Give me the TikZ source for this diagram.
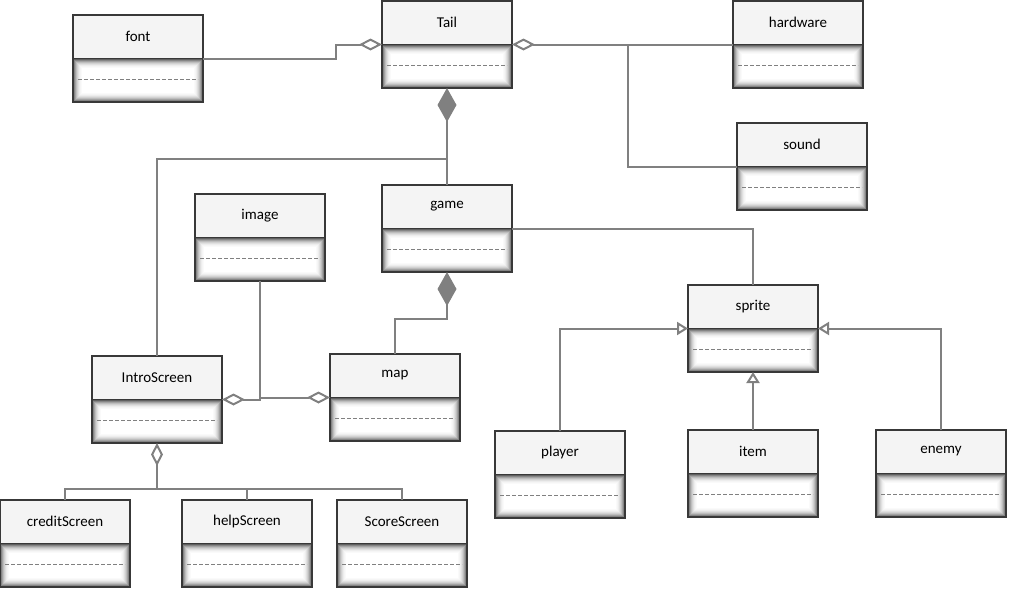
\documentclass[tikz,border=0pt]{standalone}
\usepackage{fontspec}
\setmainfont{Carlito}
\usetikzlibrary{arrows.meta,calc}
\definecolor{linkgray}{HTML}{808080}
\definecolor{boxedge}{HTML}{383838}
\definecolor{titlebg}{HTML}{F4F4F4}
\tikzset{
  classbox/.style={minimum width=130pt, minimum height=87pt, inner sep=0pt, outer sep=0pt},
  link/.style={draw=linkgray, line width=2pt},
  agg/.style={link, -{Diamond[open, length=23pt, width=12pt, fill=white]}},
  comp/.style={link, -{Diamond[length=34pt, width=19pt, fill=linkgray]}},
  inh/.style={link, -{Triangle[open, length=11pt, width=13pt, fill=white]}},
  classname/.style={font=\fontsize{15}{18}\selectfont, text=black},
}
% #1 node name, #2 left x, #3 top y, #4 class name
\newcommand\umlclass[4]{%
  \node[classbox] (#1) at (#2+65,#3+43.5) {};
  \fill[titlebg] (#1.north west) rectangle (#1.east);
  \fill[white] (#1.west) rectangle (#1.south east);
  \foreach \d/\o in {0.5/0.62,1.5/0.48,2.5/0.36,3.5/0.26,4.5/0.18,5.5/0.12,6.5/0.07,7.5/0.04,8.5/0.02}{
    \draw[black, opacity=\o, line width=1pt] ($(#1.west)+(\d,\d)$) rectangle ($(#1.south east)+(-\d,-\d)$);
  }
  \draw[linkgray, line width=1.7pt, dash pattern=on 4pt off 2pt] ($(#1.west)+(5,21)$) -- ($(#1.east)+(-5,21)$);
  \draw[boxedge, line width=1.8pt] (#1.north west) rectangle (#1.south east) (#1.west) -- (#1.east);
  \node[classname] (#1-name) at ($(#1.north)+(0,21.5)$) {#4};
}
\begin{document}
\begin{tikzpicture}[x=1pt,y=-1pt]
  \useasboundingbox[fill=white] (0,0) rectangle (1009,589);

  % classes
  \umlclass{font}{73}{15}{font}
  \umlclass{tail}{382}{1}{Tail}
  \umlclass{hardware}{733}{1}{hardware}
  \umlclass{sound}{737}{123}{sound}
  \umlclass{game}{382}{185}{game}
  \umlclass{image}{195}{194}{image}
  \umlclass{sprite}{688}{285}{sprite}
  \umlclass{intro}{92}{356}{IntroScreen}
  \umlclass{map}{330}{354}{map}
  \umlclass{player}{495}{431}{player}
  \umlclass{item}{688}{430}{item}
  \umlclass{enemy}{876}{430}{enemy}
  \umlclass{credit}{0}{500}{creditScreen}
  \umlclass{help}{182}{500}{helpScreen}
  \umlclass{score}{337}{500}{ScoreScreen}

  % junction points
  \coordinate (hwjoin) at (628,44.5);
  \coordinate (tailjoin) at (447,159);
  \coordinate (imgjoin) at (image.south |- intro.east);
  \coordinate (introjoin) at (intro.south |- 0,489);

  % Tail aggregates font, hardware, sound
  \draw[agg] (font.east) -- ++(133,0) |- (tail.west);
  \draw[agg] (hardware.west) -- (tail.east);
  \draw[link] (sound.west) -| (hwjoin);

  % Tail composed of game, IntroScreen
  \draw[comp] (game.north) -- (tail.south);
  \draw[link] (intro.north) |- (tailjoin);

  % game relations
  \draw[link] (game.east) -| (sprite.north);
  \draw[comp] (map.north) |- ($(game.south)+(0,47)$) -- (game.south);

  % image shared by IntroScreen and map
  \draw[agg] (image.south) |- (intro.east);
  \draw[agg] (imgjoin |- map.west) -- (map.west);

  % IntroScreen screens
  \draw[agg] (introjoin) -- (intro.south);
  \draw[link] (credit.north) |- (score.north |- introjoin) -- (score.north);
  \draw[link] (help.north) -- (help.north |- introjoin);

  % sprite subclasses
  \draw[inh] (player.north) |- (sprite.west);
  \draw[inh] (enemy.north) |- (sprite.east);
  \draw[inh] (item.north) -- (sprite.south);
\end{tikzpicture}
\end{document}
